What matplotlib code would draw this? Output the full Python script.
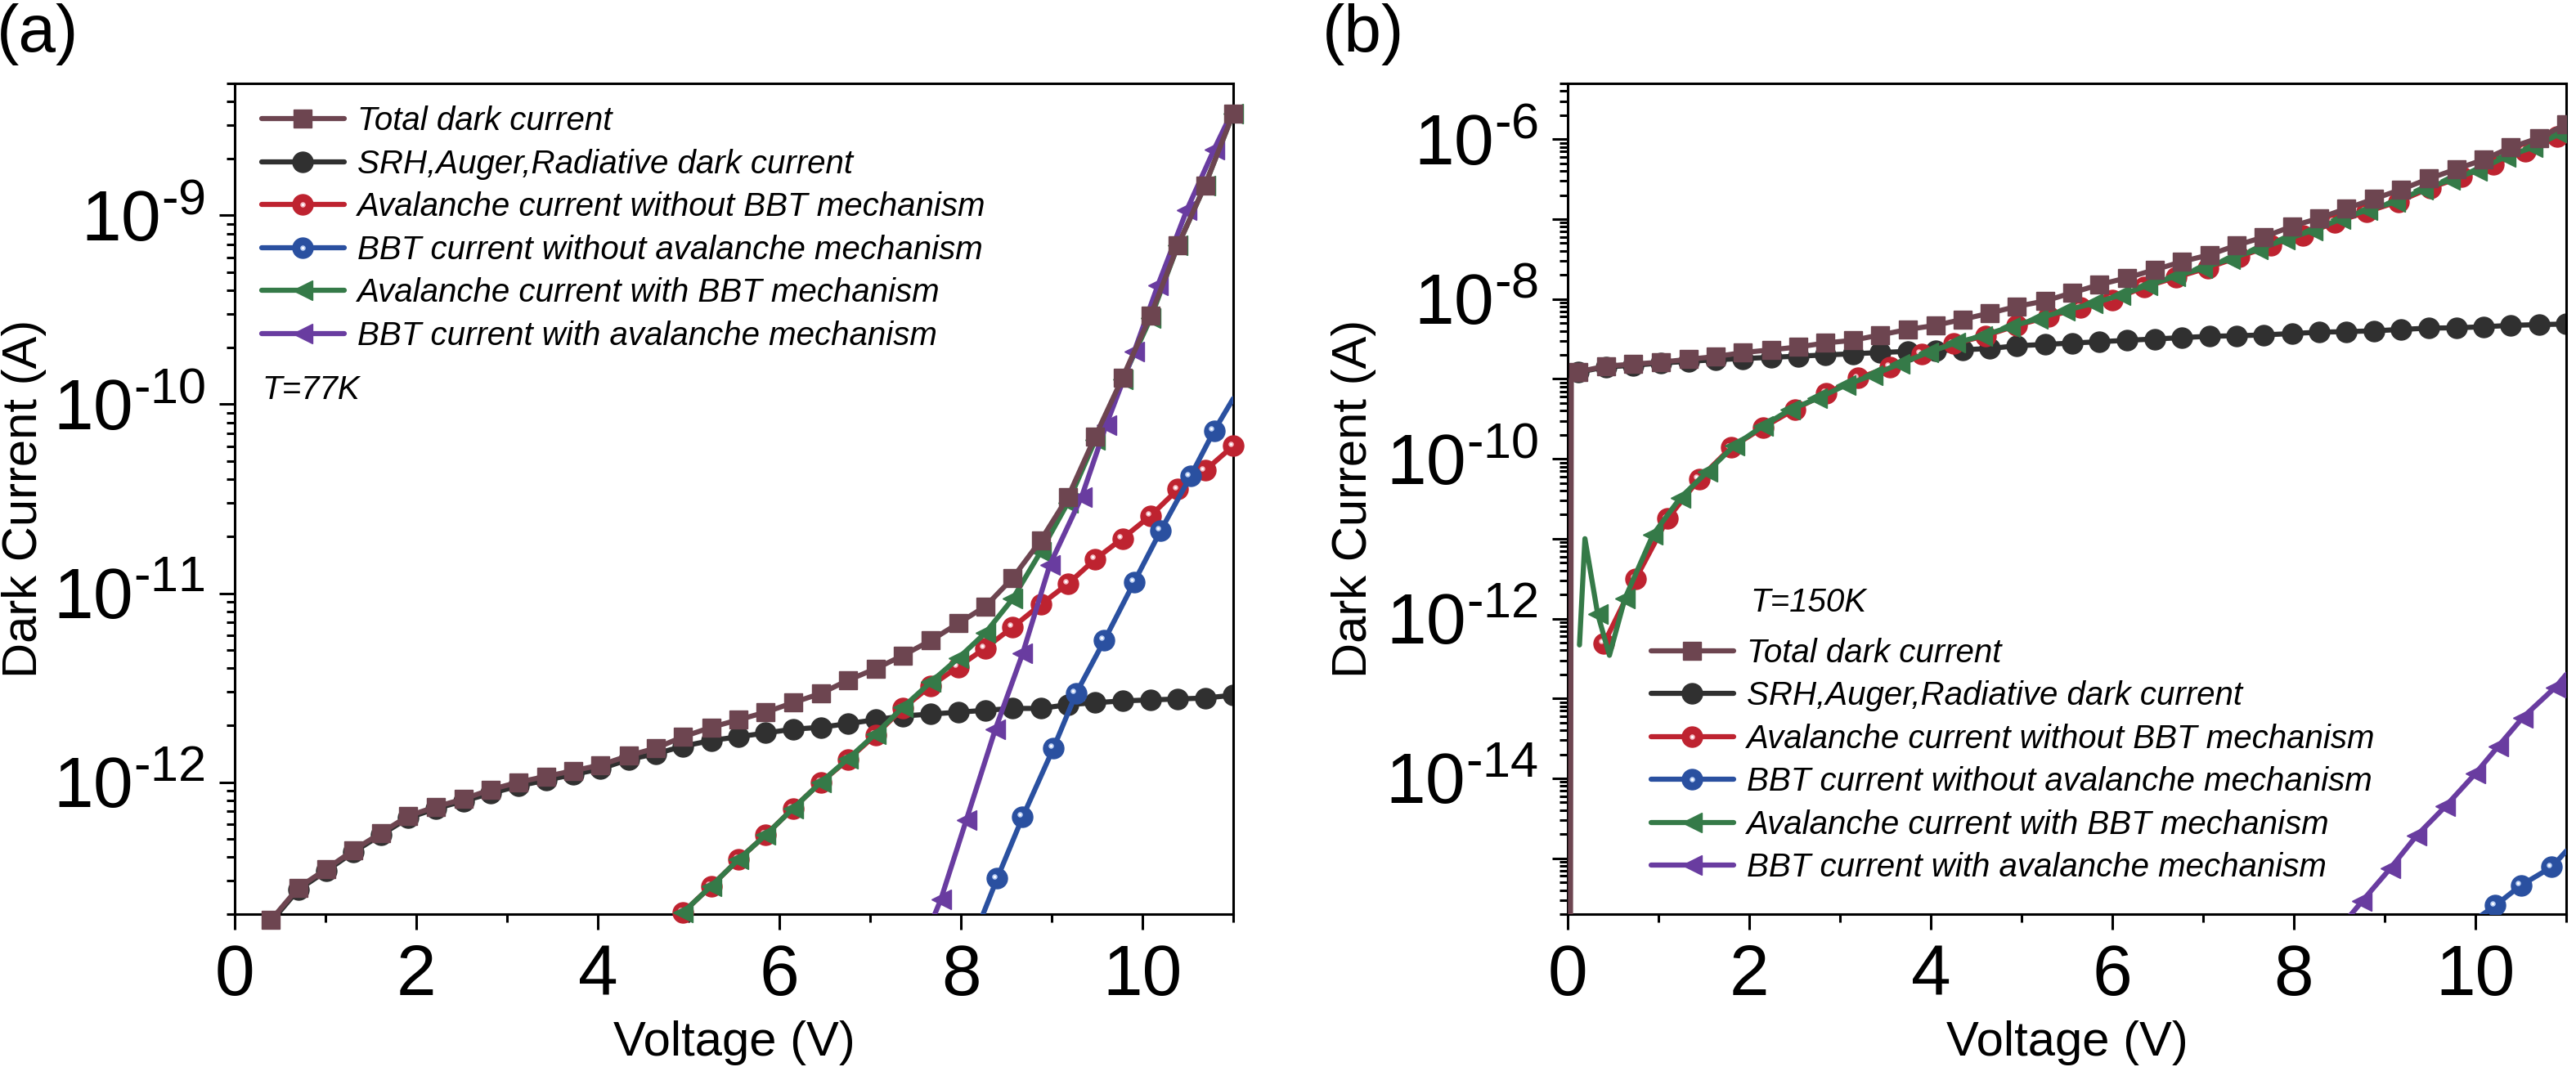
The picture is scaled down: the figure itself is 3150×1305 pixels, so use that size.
import matplotlib
matplotlib.use('Agg')
import matplotlib.pyplot as plt
import matplotlib.transforms as mtransforms
from matplotlib.ticker import LogLocator, MultipleLocator, FuncFormatter, NullFormatter
from matplotlib.legend_handler import HandlerTuple
import numpy as np

plt.rcParams['font.family'] = ['Liberation Sans', 'DejaVu Sans']
plt.rcParams['mathtext.fontset'] = 'custom'
plt.rcParams['mathtext.rm'] = 'Liberation Sans'
plt.rcParams['mathtext.it'] = 'Liberation Sans:italic'
plt.rcParams['mathtext.bf'] = 'Liberation Sans:bold'
plt.rcParams['mathtext.default'] = 'regular'

# ---- data, currents given as log10(I / A) ----
# panel (a), T = 77 K
v_a = [0.40, 0.70, 1.01, 1.31, 1.61, 1.91, 2.22, 2.52, 2.82, 3.13, 3.43, 3.73,
       4.03, 4.34, 4.64, 4.94, 5.25, 5.55, 5.85, 6.15, 6.46, 6.76, 7.06, 7.36,
       7.67, 7.97, 8.27, 8.57, 8.88, 9.18, 9.48, 9.78, 10.09, 10.39, 10.69, 11.00]
total_a = [-12.73, -12.56, -12.46, -12.36, -12.27, -12.18, -12.13, -12.09, -12.04, -12.00,
           -11.97, -11.94, -11.91, -11.86, -11.82, -11.76, -11.71, -11.67, -11.63, -11.58,
           -11.53, -11.46, -11.40, -11.33, -11.25, -11.16, -11.07, -10.92, -10.72, -10.49,
           -10.17, -9.86, -9.53, -9.16, -8.84, -8.46]
srh_a = [-12.74, -12.57, -12.47, -12.37, -12.28, -12.19, -12.14, -12.10, -12.06, -12.02,
         -11.99, -11.96, -11.93, -11.88, -11.85, -11.81, -11.78, -11.76, -11.74, -11.72,
         -11.71, -11.69, -11.67, -11.65, -11.64, -11.63, -11.62, -11.61, -11.61, -11.59,
         -11.58, -11.57, -11.565, -11.56, -11.555, -11.54]
v_aval_a = v_a[15:]
aval_nobbt_a = [-12.69, -12.55, -12.41, -12.28, -12.14, -12.00, -11.88, -11.75, -11.61, -11.49,
                -11.39, -11.29, -11.18, -11.06, -10.95, -10.82, -10.71, -10.59, -10.45, -10.35,
                -10.22]
aval_bbt_a = [-12.69, -12.55, -12.41, -12.28, -12.14, -12.00, -11.875, -11.745, -11.605, -11.47,
              -11.345, -11.21, -11.03, -10.78, -10.52, -10.19, -9.87, -9.545, -9.16, -8.84,
              -8.46]
v_bbt_noaval_a = [8.12, 8.40, 8.68, 9.02, 9.27, 9.58, 9.91, 10.20, 10.53, 10.79, 11.00]
bbt_noaval_a = [-12.85, -12.51, -12.185, -11.82, -11.53, -11.25, -10.94, -10.67, -10.38, -10.14, -9.97]
v_bbt_aval_a = [7.50, 7.78, 8.06, 8.38, 8.68, 8.98, 9.33, 9.60, 9.91, 10.17, 10.49, 10.79, 11.00]
bbt_aval_a = [-12.95, -12.62, -12.20, -11.72, -11.32, -10.85, -10.49, -10.11, -9.72, -9.37,
              -8.97, -8.65, -8.44]

# panel (b), T = 150 K
v_b = [0.12, 0.42, 0.72, 1.03, 1.33, 1.63, 1.93, 2.24, 2.54, 2.84, 3.14, 3.44, 3.75,
       4.05, 4.35, 4.65, 4.95, 5.26, 5.56, 5.86, 6.16, 6.47, 6.77, 7.07, 7.37, 7.67,
       7.98, 8.28, 8.58, 8.88, 9.18, 9.49, 9.79, 10.09, 10.39, 10.70, 11.00]
total_b = [-8.91, -8.84, -8.815, -8.79, -8.755, -8.72, -8.67, -8.636, -8.60, -8.55,
           -8.517, -8.45, -8.38, -8.33, -8.255, -8.176, -8.092, -8.024, -7.921, -7.819,
           -7.735, -7.633, -7.531, -7.446, -7.327, -7.224, -7.089, -6.987, -6.867, -6.748,
           -6.629, -6.493, -6.374, -6.255, -6.102, -5.983, -5.813]
v_total_b_start = [0.03, 0.04]
total_b_start = [-16.5, -9.0]
srh_b = [-8.915, -8.85, -8.83, -8.80, -8.78, -8.76, -8.745, -8.73, -8.715, -8.70,
         -8.685, -8.67, -8.655, -8.645, -8.636, -8.619, -8.585, -8.568, -8.551, -8.534,
         -8.517, -8.50, -8.483, -8.466, -8.46, -8.449, -8.432, -8.415, -8.408, -8.398,
         -8.381, -8.364, -8.36, -8.347, -8.33, -8.32, -8.313]
v_aval_nobbt_b = [0.40, 0.75, 1.10, 1.45, 1.80, 2.15, 2.50, 2.85, 3.20, 3.55, 3.90, 4.25,
                  4.60, 4.95, 5.30, 5.65, 6.00, 6.35, 6.70, 7.05, 7.40, 7.75, 8.10, 8.45,
                  8.80, 9.15, 9.50, 9.85, 10.20, 10.55, 10.90]
aval_nobbt_b = [-12.31, -11.50, -10.75, -10.25, -9.86, -9.61, -9.38, -9.18, -8.99, -8.85,
                -8.69, -8.56, -8.46, -8.33, -8.22, -8.11, -8.01, -7.85, -7.73, -7.61,
                -7.47, -7.33, -7.20, -7.04, -6.91, -6.78, -6.61, -6.47, -6.31, -6.15, -5.97]
v_aval_bbt_b = [0.13, 0.19, 0.33, 0.46, 0.63, 0.94, 1.24, 1.54, 1.84, 2.15, 2.45, 2.75,
                3.06, 3.36, 3.66, 3.97, 4.27, 4.57, 4.87, 5.18, 5.48, 5.78, 6.09, 6.39,
                6.69, 6.99, 7.30, 7.60, 7.90, 8.21, 8.51, 8.81, 9.12, 9.42, 9.72, 10.02,
                10.33, 10.63, 10.93, 11.00]
aval_bbt_b = [-12.33, -11.00, -11.94, -12.46, -11.75, -10.95, -10.49, -10.16, -9.83, -9.59,
              -9.385, -9.245, -9.08, -8.95, -8.81, -8.67, -8.55, -8.46, -8.35, -8.245,
              -8.143, -8.058, -7.95, -7.83, -7.717, -7.615, -7.497, -7.378, -7.259, -7.14,
              -7.003, -6.885, -6.783, -6.629, -6.510, -6.391, -6.221, -6.102, -5.932, -5.88]
v_bbt_noaval_b = [9.90, 10.22, 10.50, 10.84, 11.00]
bbt_noaval_b = [-15.85, -15.59, -15.34, -15.11, -14.91]
v_bbt_aval_b = [8.45, 8.75, 9.06, 9.35, 9.67, 10.00, 10.25, 10.52, 10.88, 11.00]
bbt_aval_b = [-15.95, -15.54, -15.13, -14.72, -14.35, -13.94, -13.60, -13.24, -12.86, -12.70]

labels = ['Total dark current',
          'SRH,Auger,Radiative dark current',
          'Avalanche current without BBT mechanism',
          'BBT current without avalanche mechanism',
          'Avalanche current with BBT mechanism',
          'BBT current with avalanche mechanism']

c_total = '#6d4550'
c_srh = '#303030'
c_red = '#be2330'
c_blue = '#2a50a0'
c_green = '#357a48'
c_purple = '#693ca0'

LW = 4.5

fig = plt.figure(figsize=(31.5, 13.05), dpi=100)
ax_a = fig.add_axes([287 / 3150, 187 / 1305, 1221 / 3150, 1016 / 1305])
ax_b = fig.add_axes([1917 / 3150, 187 / 1305, 1221 / 3150, 1016 / 1305])


def curve(ax, v, logi, color, marker, ms, z, every=None, clip=True, hl=None):
    y = 10 ** np.array(logi)
    line, = ax.plot(v, y, color=color, lw=LW, marker=marker, ms=ms, mfc=color,
                    mec=color, mew=1, zorder=z, markevery=every, clip_on=clip,
                    solid_capstyle='round')
    if hl is None:
        return line
    # small glossy spot, as on the spheres of the original
    off = mtransforms.offset_copy(ax.transData, fig=fig, x=-2.5, y=2, units='points')
    shine, = ax.plot(v, y, ls='none', marker='o', ms=3.5, mfc='white', mec=hl, mew=1.2,
                     transform=off, zorder=z + 0.1, markevery=every, clip_on=clip)
    return (line, shine)


# panel (a)
ha = [curve(ax_a, v_a, total_a, c_total, 's', 16.5, 7, clip=False),
      curve(ax_a, v_a, srh_a, c_srh, 'o', 18, 2),
      curve(ax_a, v_aval_a, aval_nobbt_a, c_red, 'o', 18, 3, clip=False, hl='#f4b8c0'),
      curve(ax_a, v_bbt_noaval_a, bbt_noaval_a, c_blue, 'o', 18, 4,
            every=slice(1, -1), hl='#b8cdf4'),
      curve(ax_a, v_aval_a, aval_bbt_a, c_green, '<', 17, 5, clip=False),
      curve(ax_a, v_bbt_aval_a, bbt_aval_a, c_purple, '<', 17, 6, every=slice(1, -1))]

# panel (b)
curve(ax_b, v_total_b_start + v_b[:1], total_b_start + total_b[:1], c_total, None, 0, 7)
hb = [curve(ax_b, v_b, total_b, c_total, 's', 16.5, 7),
      curve(ax_b, v_b, srh_b, c_srh, 'o', 18, 2),
      curve(ax_b, v_aval_nobbt_b, aval_nobbt_b, c_red, 'o', 18, 3, hl='#f4b8c0'),
      curve(ax_b, v_bbt_noaval_b, bbt_noaval_b, c_blue, 'o', 18, 4,
            every=slice(1, -1), hl='#b8cdf4'),
      curve(ax_b, v_aval_bbt_b, aval_bbt_b, c_green, '<', 17, 5,
            every=[2] + list(range(4, 39))),
      curve(ax_b, v_bbt_aval_b, bbt_aval_b, c_purple, '<', 17, 6, every=slice(1, -1))]


def power(e):
    # short hyphen as in the original figure
    return r'$\mathregular{10^{\text{-}%d}}$' % abs(e)


def label_a(val, pos):
    return power(int(round(np.log10(val))))


def label_b(val, pos):
    e = int(round(np.log10(val)))
    if e % 2:
        return ''
    return power(e)


for ax, ylim, fmt in [(ax_a, (2e-13, 5e-9), label_a), (ax_b, (2e-16, 5e-6), label_b)]:
    ax.set_yscale('log')
    ax.set_xlim(0, 11)
    ax.set_ylim(*ylim)
    ax.yaxis.set_major_locator(LogLocator(base=10, numticks=50))
    ax.yaxis.set_minor_locator(LogLocator(base=10, subs=np.arange(2, 10), numticks=50))
    ax.yaxis.set_major_formatter(FuncFormatter(fmt))
    ax.yaxis.set_minor_formatter(NullFormatter())
    ax.xaxis.set_major_locator(MultipleLocator(2))
    ax.xaxis.set_minor_locator(MultipleLocator(1))
    ax.tick_params(which='both', direction='out', width=2.2, top=False, right=False)
    ax.tick_params(which='major', length=14, labelsize=63)
    ax.tick_params(axis='y', which='major', pad=12)
    ax.tick_params(axis='x', which='major', pad=12)
    ax.tick_params(which='minor', length=7)
    for s in ax.spines.values():
        s.set_linewidth(2.2)
    ax.set_xlabel('Voltage (V)', fontsize=43)
    ax.set_ylabel('Dark Current (A)', fontsize=43)
    ax.xaxis.set_label_coords(0.5, -0.128)

ax_a.yaxis.set_label_coords(-0.188, 0.5)
ax_b.yaxis.set_label_coords(-0.192, 0.5)

leg_font = {'family': 'Liberation Sans', 'style': 'italic', 'size': 29}
for ax, handles, anchor in [(ax_a, ha, (0.027, 0.973)), (ax_b, hb, (0.0835, 0.333))]:
    ax.legend(handles, labels, loc='upper left', bbox_to_anchor=anchor, frameon=False,
              borderpad=0, borderaxespad=0, handlelength=2.5, handletextpad=0.4,
              labelspacing=0.36, prop=leg_font,
              handler_map={tuple: HandlerTuple(ndivide=1, pad=0)})

ax_a.text(0.027, 0.631, 'T=77K', transform=ax_a.transAxes, fontsize=29,
          style='italic', va='center', ha='left')
ax_b.text(0.1826, 0.375, 'T=150K', transform=ax_b.transAxes, fontsize=29,
          style='italic', va='center', ha='left')

fig.text(-4 / 3150, 1 - 63 / 1305, '(a)', fontsize=59, va='baseline', ha='left')
fig.text(1617 / 3150, 1 - 63 / 1305, '(b)', fontsize=59, va='baseline', ha='left')

fig.savefig('out.png', dpi=100)
